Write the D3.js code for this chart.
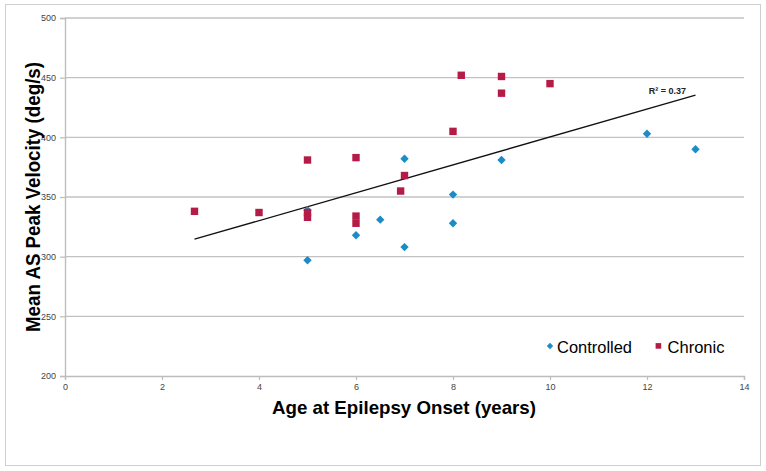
<!DOCTYPE html>
<html>
<head>
<meta charset="utf-8">
<script src="https://cdn.jsdelivr.net/npm/d3@7"></script>
<style>
  html, body { margin: 0; padding: 0; background: #fff; }
  svg { display: block; font-family: "Liberation Sans", Arial, Helvetica, sans-serif; }
</style>
</head>
<body>
<svg id="chart" width="766" height="471"></svg>
<script>
// ---- Data ----
const controlledX = [5, 5, 6, 6.5, 7, 7, 8, 8, 9, 12, 13];
const controlledY = [297, 339, 318, 331, 382, 308, 352, 328, 381, 403, 390];
const chronicX = [2.67, 4, 5, 5, 5, 6, 6, 6, 6.92, 7, 8, 8.17, 9, 9, 10];
const chronicY = [338, 337, 381, 337, 333, 383, 334, 328, 355, 368, 405, 452, 451, 437, 445];
const trendX = [2.67, 13];
const trendY = [314.6, 435.4];
const xTicks = [0, 2, 4, 6, 8, 10, 12, 14];
const yTicks = [200, 250, 300, 350, 400, 450, 500];
const seriesNames = ["Controlled", "Chronic"];
const seriesColors = ["#1d8cc6", "#b51b47"];
const r2Label = "R² = 0.37";
const xTitle = "Age at Epilepsy Onset (years)";
const yTitle = "Mean AS Peak Velocity (deg/s)";

// ---- Layout ----
const svg = d3.select("#chart");
const x = d3.scaleLinear().domain([0, 14]).range([65, 744]);
const y = d3.scaleLinear().domain([200, 500]).range([376, 18]);

svg.append("rect").attr("x", 0).attr("y", 0).attr("width", 766).attr("height", 471).attr("fill", "#fff");
svg.append("rect").attr("x", 5.5).attr("y", 4.5).attr("width", 755).attr("height", 461)
  .attr("fill", "none").attr("stroke", "#cfcfcf").attr("stroke-width", 1);

// gridlines
svg.append("g").selectAll("line").data(yTicks.filter(d => d > 200)).join("line")
  .attr("x1", x(0)).attr("x2", x(14))
  .attr("y1", d => y(d)).attr("y2", d => y(d))
  .attr("stroke", "#c2c2c2").attr("stroke-width", 1.4);

// y axis
const yAxis = svg.append("g").attr("transform", `translate(${x(0)},0)`)
  .call(d3.axisLeft(y).tickValues(yTicks).tickSize(5).tickPadding(4).tickFormat(d3.format("d")));
yAxis.select(".domain").attr("stroke", "#bdbdbd").attr("stroke-width", 1.4);
yAxis.selectAll(".tick line").attr("stroke", "#bdbdbd").attr("stroke-width", 1.2);
yAxis.selectAll("text").attr("font-size", 9).attr("fill", "#444").attr("font-family", "Liberation Sans, Arial, sans-serif");

// x axis
const xAxis = svg.append("g").attr("transform", `translate(0,${y(200)})`)
  .call(d3.axisBottom(x).tickValues(xTicks).tickSize(4).tickPadding(4).tickFormat(d3.format("d")));
xAxis.select(".domain").attr("stroke", "#bdbdbd").attr("stroke-width", 1.4);
xAxis.selectAll(".tick line").attr("stroke", "#bdbdbd").attr("stroke-width", 1.2);
xAxis.selectAll("text").attr("font-size", 9).attr("fill", "#444").attr("font-family", "Liberation Sans, Arial, sans-serif");

// trend line
const trend = trendX.map((d, i) => [d, trendY[i]]);
svg.append("path").datum(trend)
  .attr("d", d3.line().x(d => x(d[0])).y(d => y(d[1])))
  .attr("stroke", "#111").attr("stroke-width", 1.3).attr("fill", "none");

svg.append("text").attr("x", 686).attr("y", 94).attr("text-anchor", "end")
  .attr("font-size", 9).attr("font-weight", "bold").attr("fill", "#222").text(r2Label);

// markers
const diamond = (cx, cy, r) => `M${cx},${cy - r}L${cx + r},${cy}L${cx},${cy + r}L${cx - r},${cy}Z`;
const controlled = controlledX.map((d, i) => [d, controlledY[i]]);
const chronic = chronicX.map((d, i) => [d, chronicY[i]]);

svg.append("g").selectAll("path").data(controlled).join("path")
  .attr("d", d => diamond(x(d[0]), y(d[1]), 4.2))
  .attr("fill", seriesColors[0]);

svg.append("g").selectAll("rect").data(chronic).join("rect")
  .attr("x", d => x(d[0]) - 3.7).attr("y", d => y(d[1]) - 3.7)
  .attr("width", 7.4).attr("height", 7.4)
  .attr("fill", seriesColors[1]);

// axis titles
svg.append("text").attr("x", 404).attr("y", 414).attr("text-anchor", "middle")
  .attr("font-size", 19).attr("font-weight", "bold").attr("fill", "#000")
  .attr("textLength", 264).attr("lengthAdjust", "spacingAndGlyphs").text(xTitle);

svg.append("text").attr("transform", "translate(39.5,197) rotate(-90)").attr("text-anchor", "middle")
  .attr("font-size", 20).attr("font-weight", "bold").attr("fill", "#000")
  .attr("textLength", 270).attr("lengthAdjust", "spacingAndGlyphs").text(yTitle);

// legend
const leg = svg.append("g");
leg.append("path").attr("d", diamond(550, 346, 3.2)).attr("fill", seriesColors[0]);
leg.append("text").attr("x", 557).attr("y", 353).attr("font-size", 17).attr("fill", "#000")
  .attr("textLength", 75).attr("lengthAdjust", "spacingAndGlyphs").text(seriesNames[0]);
leg.append("rect").attr("x", 655.6).attr("y", 343.1).attr("width", 5.6).attr("height", 5.6).attr("fill", seriesColors[1]);
leg.append("text").attr("x", 667.5).attr("y", 353).attr("font-size", 17).attr("fill", "#000")
  .attr("textLength", 57).attr("lengthAdjust", "spacingAndGlyphs").text(seriesNames[1]);
</script>
</body>
</html>
